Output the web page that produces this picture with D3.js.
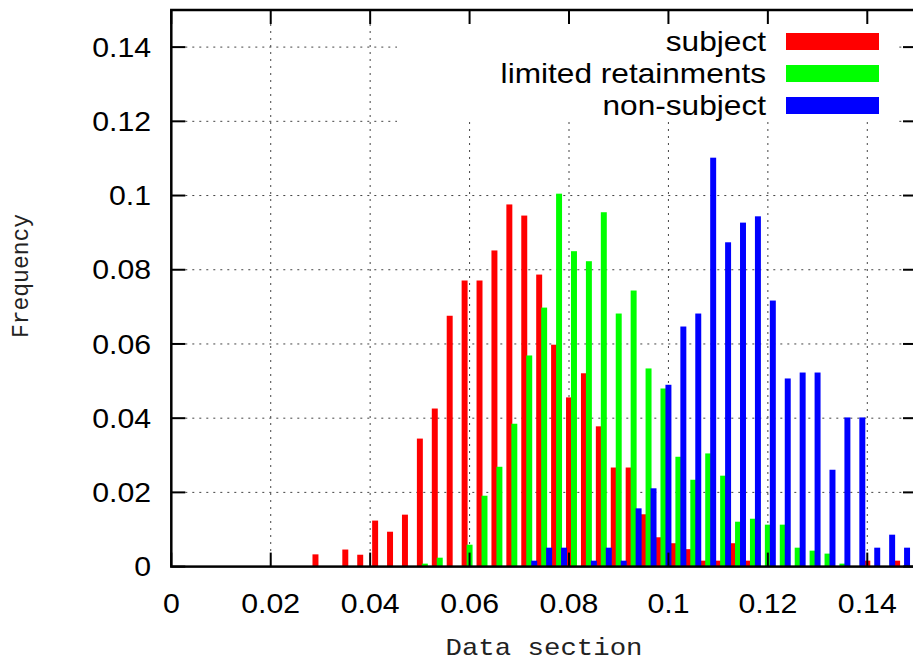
<!DOCTYPE html>
<html>
<head>
<meta charset="utf-8">
<script src="https://cdn.jsdelivr.net/npm/d3@7"></script>
<style>
  html, body { margin: 0; padding: 0; background: #fff; }
  svg { display: block; }
</style>
</head>
<body>
<svg id="chart" width="913" height="668"></svg>
<script>
// Bin centres of the histogram (Data section)
const binCenters = [
  0.030, 0.033, 0.036, 0.039, 0.042, 0.045, 0.048, 0.051, 0.054, 0.057,
  0.060, 0.063, 0.066, 0.069, 0.072, 0.075, 0.078, 0.081, 0.084, 0.087,
  0.090, 0.093, 0.096, 0.099, 0.102, 0.105, 0.108, 0.111, 0.114, 0.117,
  0.120, 0.123, 0.126, 0.129, 0.132, 0.135, 0.138, 0.141, 0.144, 0.147
];

// Relative frequency per bin for each series
const subject = [
  0.0033, 0, 0.0046, 0.0032, 0.0124, 0.0094, 0.0140, 0.0345, 0.0426, 0.0676,
  0.0771, 0.0771, 0.0852, 0.0976, 0.0946, 0.0787, 0.0598, 0.0456, 0.0521, 0.0378,
  0.0267, 0.0267, 0.0141, 0.0079, 0.0063, 0.0047, 0.0016, 0.0016, 0.0063, 0.0016,
  0, 0, 0, 0, 0, 0, 0, 0.0016, 0, 0.0016
];
const limitedRetainments = [
  0, 0, 0, 0, 0, 0, 0, 0.0008, 0.0024, 0,
  0.0059, 0.0191, 0.0269, 0.0385, 0.0569, 0.0698, 0.1005, 0.0850, 0.0823, 0.0955,
  0.0682, 0.0744, 0.0534, 0.0480, 0.0296, 0.0234, 0.0305, 0.0245, 0.0121, 0.0129,
  0.0113, 0.0113, 0.0051, 0.0043, 0.0035, 0.0008, 0, 0, 0, 0
];
const nonSubject = [
  0, 0, 0, 0, 0, 0, 0, 0, 0, 0,
  0, 0, 0, 0, 0.0016, 0.0051, 0.0051, 0, 0.0016, 0.0051,
  0.0016, 0.0157, 0.0211, 0.0490, 0.0647, 0.0682, 0.1102, 0.0874, 0.0927, 0.0944,
  0.0717, 0.0507, 0.0523, 0.0523, 0.0261, 0.0402, 0.0402, 0.0051, 0.0086, 0.0051
];

const seriesNames = ["subject", "limited retainments", "non-subject"];
const seriesColors = ["#ff0000", "#00ff00", "#0000ff"];
const seriesOffsets = [-0.001, 0, 0.001];

const xTicks = [0, 0.02, 0.04, 0.06, 0.08, 0.1, 0.12, 0.14];
const yTicks = [0, 0.02, 0.04, 0.06, 0.08, 0.1, 0.12, 0.14];

const svg = d3.select("#chart");

const plotL = 171.3, plotR = 917, plotT = 10, plotB = 566.6;
const x = d3.scaleLinear().domain([0, 0.15]).range([plotL, plotR]);
const y = d3.scaleLinear().domain([0, 0.15]).range([plotB, plotT]);

// Legend box (opaque) area
const keyBox = { x0: 397, x1: 898, y0: plotT, y1: 122 };

// Grid (dotted)
const grid = svg.append("g")
  .attr("stroke", "#444")
  .attr("stroke-width", 1)
  .attr("stroke-dasharray", "2,5");

yTicks.filter(t => t > 0).forEach(t => {
  grid.append("line")
    .attr("x1", plotL + 14).attr("x2", plotR - 14)
    .attr("y1", y(t)).attr("y2", y(t));
});
xTicks.filter(t => t > 0).forEach(t => {
  grid.append("line")
    .attr("x1", x(t)).attr("x2", x(t))
    .attr("y1", plotT + 14).attr("y2", plotB - 14);
});

// Bars
const allSeries = [subject, limitedRetainments, nonSubject];
const barHalf = 0.0006;
allSeries.forEach((vals, si) => {
  svg.append("g")
    .attr("fill", seriesColors[si])
    .selectAll("rect")
    .data(binCenters.map((c, i) => ({ c, v: vals[i] })).filter(d => d.v > 0))
    .join("rect")
    .attr("x", d => x(d.c + seriesOffsets[si] - barHalf))
    .attr("width", d => x(d.c + seriesOffsets[si] + barHalf) - x(d.c + seriesOffsets[si] - barHalf))
    .attr("y", d => y(d.v))
    .attr("height", d => y(0) - y(d.v));
});

// Legend
svg.append("rect")
  .attr("x", keyBox.x0).attr("y", keyBox.y0 + 1)
  .attr("width", keyBox.x1 - keyBox.x0).attr("height", keyBox.y1 - keyBox.y0 - 1)
  .attr("fill", "#fff");

seriesNames.forEach((name, i) => {
  const cy = 41.5 + i * 32;
  svg.append("g")
    .attr("transform", `translate(766,${cy}) scale(1.13,1)`)
    .append("text")
    .attr("text-anchor", "end")
    .attr("dominant-baseline", "central")
    .attr("font-family", "'Liberation Sans', Arial, sans-serif")
    .attr("font-size", 28)
    .attr("fill", "#000")
    .text(name);
  svg.append("rect")
    .attr("x", 786).attr("y", cy - 8.5)
    .attr("width", 93).attr("height", 17)
    .attr("fill", seriesColors[i]);
});

// Axis ticks (inward on all four sides)
const ticks = svg.append("g").attr("stroke", "#000").attr("stroke-width", 2);
yTicks.forEach(t => {
  ticks.append("line").attr("x1", plotL).attr("x2", plotL + 14).attr("y1", y(t)).attr("y2", y(t));
  ticks.append("line").attr("x1", plotR - 14).attr("x2", plotR).attr("y1", y(t)).attr("y2", y(t));
});
xTicks.forEach(t => {
  ticks.append("line").attr("x1", x(t)).attr("x2", x(t)).attr("y1", plotB).attr("y2", plotB - 14);
  ticks.append("line").attr("x1", x(t)).attr("x2", x(t)).attr("y1", plotT).attr("y2", plotT + 14);
});

// Border
svg.append("rect")
  .attr("x", plotL).attr("y", plotT)
  .attr("width", plotR - plotL).attr("height", plotB - plotT)
  .attr("fill", "none").attr("stroke", "#000").attr("stroke-width", 2.5);

// Tick labels
const fmt = d => d === 0 ? "0" : String(+d.toFixed(2));
yTicks.forEach(t => {
  svg.append("g")
    .attr("transform", `translate(151,${y(t)}) scale(1.08,1)`)
    .append("text")
    .attr("text-anchor", "end")
    .attr("dominant-baseline", "central")
    .attr("font-family", "'Liberation Sans', Arial, sans-serif")
    .attr("font-size", 28)
    .text(fmt(t));
});
xTicks.forEach(t => {
  svg.append("g")
    .attr("transform", `translate(${x(t)},603) scale(1.08,1)`)
    .append("text")
    .attr("text-anchor", "middle")
    .attr("dominant-baseline", "central")
    .attr("font-family", "'Liberation Sans', Arial, sans-serif")
    .attr("font-size", 28)
    .text(fmt(t));
});

// Axis titles
svg.append("g")
  .attr("transform", "translate(544,649) scale(1.19,1)")
  .append("text")
  .attr("text-anchor", "middle")
  .attr("dominant-baseline", "central")
  .attr("font-family", "'Liberation Mono', 'Courier New', monospace")
  .attr("font-size", 23)
  .attr("fill", "#222")
  .text("Data section");

svg.append("g")
  .attr("transform", "translate(22,276) rotate(-90)")
  .append("text")
  .attr("text-anchor", "middle")
  .attr("dominant-baseline", "central")
  .attr("font-family", "'Liberation Mono', 'Courier New', monospace")
  .attr("font-size", 23)
  .attr("fill", "#222")
  .text("Frequency");
</script>
</body>
</html>
